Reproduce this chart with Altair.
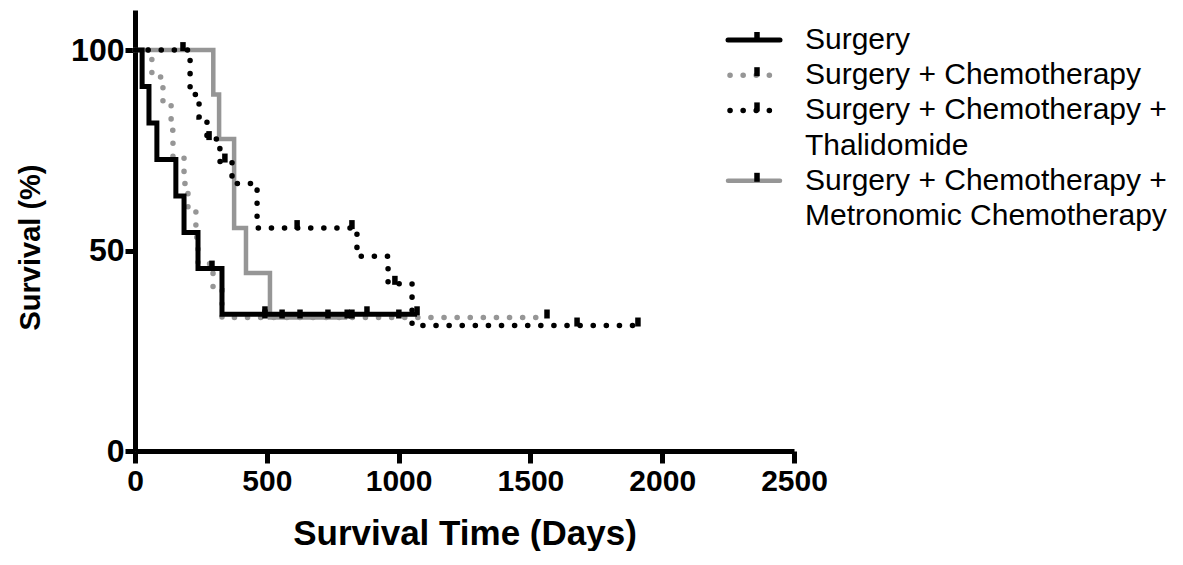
import altair as alt
import pandas as pd

# ---------------- data ----------------
series = [
    "Surgery",
    "Surgery + Chemotherapy",
    "Surgery + Chemotherapy + Thalidomide",
    "Surgery + Chemotherapy + Metronomic Chemotherapy",
]
legend_lines = [
    ["Surgery"],
    ["Surgery + Chemotherapy"],
    ["Surgery + Chemotherapy +", "Thalidomide"],
    ["Surgery + Chemotherapy +", "Metronomic Chemotherapy"],
]

surgery_t = [0, 27, 53, 83, 155, 186, 239, 330]
surgery_s = [100, 90.9, 81.8, 72.7, 63.6, 54.5, 45.5, 34.1]
surgery_end = 1070
surgery_cens = [292, 493, 880, 1070]

chemo_t = [0, 64, 106, 137, 144, 186, 201, 231, 239, 296, 330]
chemo_s = [100, 93.3, 86.7, 80.0, 73.3, 66.7, 60.0, 53.3, 46.7, 40.0, 33.3]
chemo_end = 1563
chemo_cens = [493, 626, 823, 1001, 1563]

thal_t = [0, 209, 243, 273, 322, 368, 463, 842, 960, 1051]
thal_s = [100, 88.9, 83.3, 77.8, 72.2, 66.7, 55.6, 48.6, 41.7, 31.3]
thal_end = 1908
thal_cens = [182, 281, 341, 615, 823, 986, 1677, 1908]

metro_t = [0, 297, 319, 376, 421, 512]
metro_s = [100, 88.9, 77.8, 55.6, 44.4, 33.3]
metro_end = 805
metro_cens = [558, 732, 805]

x_ticks = [0, 500, 1000, 1500, 2000, 2500]
y_ticks = [0, 50, 100]

# ---------------- helpers ----------------
def curve_df(name, t, s, end):
    return pd.DataFrame({"series": name, "time": list(t) + [end], "surv": list(s) + [s[-1]]})


def cens_df(name, t, s, c):
    vals = []
    for ci in c:
        v = s[0]
        for ti, si in zip(t, s):
            if ti <= ci:
                v = si
        vals.append(v)
    return pd.DataFrame({"series": name, "time": list(c), "surv": vals})


data = {
    series[0]: (surgery_t, surgery_s, surgery_end, surgery_cens),
    series[1]: (chemo_t, chemo_s, chemo_end, chemo_cens),
    series[2]: (thal_t, thal_s, thal_end, thal_cens),
    series[3]: (metro_t, metro_s, metro_end, metro_cens),
}

BLACK = "#000000"
GRAY = "#969696"
FONT = "Liberation Sans"
DOT = [0.1, 13]
styles = {
    series[0]: dict(color=BLACK, strokeWidth=5, dash=None),
    series[1]: dict(color=GRAY, strokeWidth=5.5, dash=DOT),
    series[2]: dict(color=BLACK, strokeWidth=5.5, dash=DOT),
    series[3]: dict(color=GRAY, strokeWidth=4.5, dash=None),
}
draw_order = [series[3], series[1], series[0], series[2]]

CENSOR_SHAPE = "M-0.55,-1.6 L0.55,-1.6 L0.55,0.2 L-0.55,0.2 Z"

x_axis = alt.Axis(
    values=x_ticks, format="d", title="Survival Time (Days)", grid=False,
    domainColor=BLACK, domainWidth=5, tickColor=BLACK, tickWidth=5, tickSize=12,
    labelFont=FONT, labelFontSize=30, labelFontWeight="bold", labelColor=BLACK,
    labelPadding=3, labelFlush=False, labelOverlap=False,
    titleFont=FONT, titleFontSize=35, titleFontWeight="bold", titleColor=BLACK,
    titleY=82, titleBaseline="middle",
)
y_axis = alt.Axis(
    values=y_ticks, format="d", title="Survival (%)", grid=False,
    domainColor=BLACK, domainWidth=5, tickColor=BLACK, tickWidth=5, tickSize=10,
    labelFont=FONT, labelFontSize=32, labelFontWeight="bold", labelColor=BLACK,
    labelPadding=1, labelFlush=False, labelOverlap=False,
    titleFont=FONT, titleFontSize=29, titleFontWeight="bold", titleColor=BLACK,
    titleX=-105, titleY=237, titleBaseline="middle", titleAngle=-90,
)
x_enc = alt.X("time:Q", scale=alt.Scale(domain=[0, 2500], nice=False), axis=x_axis)
y_enc = alt.Y("surv:Q", scale=alt.Scale(domain=[0, 110], nice=False), axis=y_axis)

layers = []
for name in draw_order:
    t, s, end, c = data[name]
    st = styles[name]
    kw = dict(interpolate="step-after", color=st["color"], strokeWidth=st["strokeWidth"],
              strokeCap="round" if st["dash"] else "butt", strokeJoin="miter")
    if st["dash"]:
        kw["strokeDash"] = st["dash"]
    layers.append(alt.Chart(curve_df(name, t, s, end)).mark_line(**kw).encode(x=x_enc, y=y_enc))

for name in draw_order:
    t, s, end, c = data[name]
    layers.append(
        alt.Chart(cens_df(name, t, s, c))
        .mark_point(shape=CENSOR_SHAPE, filled=True, size=100, color=BLACK, opacity=1, strokeWidth=0)
        .encode(x=x_enc, y=y_enc)
    )

# ---------------- manual legend ----------------
LEG_SYM_X0, LEG_SYM_X1, LEG_TICK_X, LEG_TEXT_X = 593, 645, 622, 670
LEG_Y0, LEG_PITCH = 30, 35.2
row = 0
for i, name in enumerate(series):
    st = styles[name]
    y = LEG_Y0 + row * LEG_PITCH
    kw = dict(color=st["color"], strokeWidth=st["strokeWidth"], strokeCap="round")
    if st["dash"]:
        kw["strokeDash"] = st["dash"]
    one = pd.DataFrame({"k": [0]})
    x0 = LEG_SYM_X0 + (2 if st["dash"] else 0)
    layers.append(alt.Chart(one).mark_rule(**kw).encode(
        x=alt.value(x0), x2=alt.value(LEG_SYM_X1), y=alt.value(y)))
    layers.append(alt.Chart(one).mark_point(
        shape=CENSOR_SHAPE, filled=True, size=100, color=BLACK, opacity=1, strokeWidth=0
    ).encode(x=alt.value(LEG_TICK_X), y=alt.value(y)))
    for line in legend_lines[i]:
        layers.append(alt.Chart(pd.DataFrame({"label": [line]})).mark_text(
            align="left", baseline="middle", font=FONT, fontSize=30, color=BLACK
        ).encode(x=alt.value(LEG_TEXT_X), y=alt.value(LEG_Y0 + row * LEG_PITCH), text="label:N"))
        row += 1

chart = (
    alt.layer(*layers)
    .properties(
        width=659, height=441,
        padding={"left": 127, "top": 2, "right": 381, "bottom": 100},
        autosize=alt.AutoSizeParams(type="none"),
    )
    .configure_view(stroke=None)
)

chart.save("out.html", embed_options={"renderer": "svg", "actions": False})
